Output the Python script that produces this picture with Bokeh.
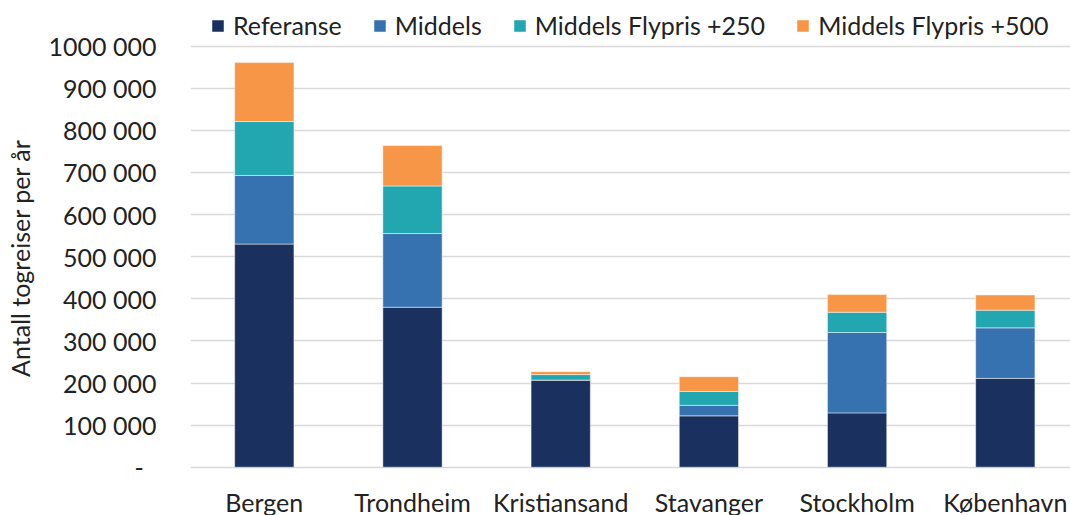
from bokeh.plotting import figure
from bokeh.models import ColumnDataSource, Range1d, FixedTicker, Label
from bokeh.embed import file_html
from bokeh.resources import INLINE

# ---- data ----
cities = ["Bergen", "Trondheim", "Kristiansand", "Stavanger", "Stockholm", "København"]
referanse = [530000, 380000, 207000, 122000, 129000, 211000]
middels = [163000, 175000, 0, 25000, 191000, 120000]
flypris_250 = [128000, 113000, 13000, 33000, 48000, 42000]
flypris_500 = [140000, 96000, 7000, 35000, 42000, 36000]
series_names = ["Referanse", "Middels", "Middels Flypris +250", "Middels Flypris +500"]
colors = ["#1A3160", "#3772B0", "#22A6B0", "#F79646"]
y_ticks = [0, 100000, 200000, 300000, 400000, 500000, 600000, 700000, 800000, 900000, 1000000]
y_tick_labels = ["-", "100 000", "200 000", "300 000", "400 000", "500 000",
                 "600 000", "700 000", "800 000", "900 000", "1000 000"]
y_title = "Antall togreiser per år"

FONT = "Lato"
TXT = "#222222"
FS = "25px"

keys = ["referanse", "middels", "fly250", "fly500"]
source = ColumnDataSource(dict(
    x=list(range(len(cities))),
    referanse=referanse, middels=middels, fly250=flypris_250, fly500=flypris_500,
))

W, H = 1070, 515
p = figure(width=W, height=H, output_backend="svg", toolbar_location=None,
           x_range=Range1d(-0.498, 5.44), y_range=Range1d(-114700, 1108500),
           x_axis_location=None,
           min_border_left=190, min_border_right=0, min_border_top=0, min_border_bottom=0)
p.outline_line_color = None
p.background_fill_color = "white"
p.border_fill_color = "white"

p.vbar_stack(keys, x="x", width=0.4, color=colors, source=source,
             line_color="white", line_width=0.8, line_alpha=0.6,
             legend_label=series_names)

# y axis
p.yaxis.ticker = FixedTicker(ticks=y_ticks)
p.yaxis.major_label_overrides = {
    t: (lab + "\u00a0\u00a0" if lab == "-" else lab) for t, lab in zip(y_ticks, y_tick_labels)
}
p.yaxis.major_label_text_font = FONT
p.yaxis.major_label_text_font_size = FS
p.yaxis.major_label_text_color = TXT
p.yaxis.major_label_standoff = 34
p.yaxis.major_tick_line_color = None
p.yaxis.major_tick_out = 0
p.yaxis.major_tick_in = 0
p.yaxis.minor_tick_line_color = None
p.yaxis.minor_tick_out = 0
p.yaxis.axis_line_color = None
p.yaxis.axis_label = y_title
p.yaxis.axis_label_text_font = FONT
p.yaxis.axis_label_text_font_size = FS
p.yaxis.axis_label_text_font_style = "normal"
p.yaxis.axis_label_text_color = TXT
p.yaxis.axis_label_standoff = 11

p.ygrid.grid_line_color = "#D9D9D9"
p.ygrid.grid_line_width = 1.5
p.xgrid.visible = False

# category labels below the bars
for i, c in enumerate(cities):
    p.add_layout(Label(x=i, y=14, x_units="data", y_units="screen", text=c,
                       text_align="center", text_baseline="alphabetic",
                       text_font=FONT, text_font_size=FS, text_color=TXT))

# legend
lg = p.legend[0]
lg.orientation = "horizontal"
lg.location = (20, 475)
lg.label_text_font = FONT
lg.label_text_font_size = FS
lg.label_text_color = TXT
lg.glyph_width = 15
lg.glyph_height = 15
lg.label_standoff = 8
lg.spacing = 30
lg.padding = 0
lg.margin = 0
lg.border_line_color = None
lg.background_fill_alpha = 0

open("out.html", "w").write(file_html(p, INLINE))
